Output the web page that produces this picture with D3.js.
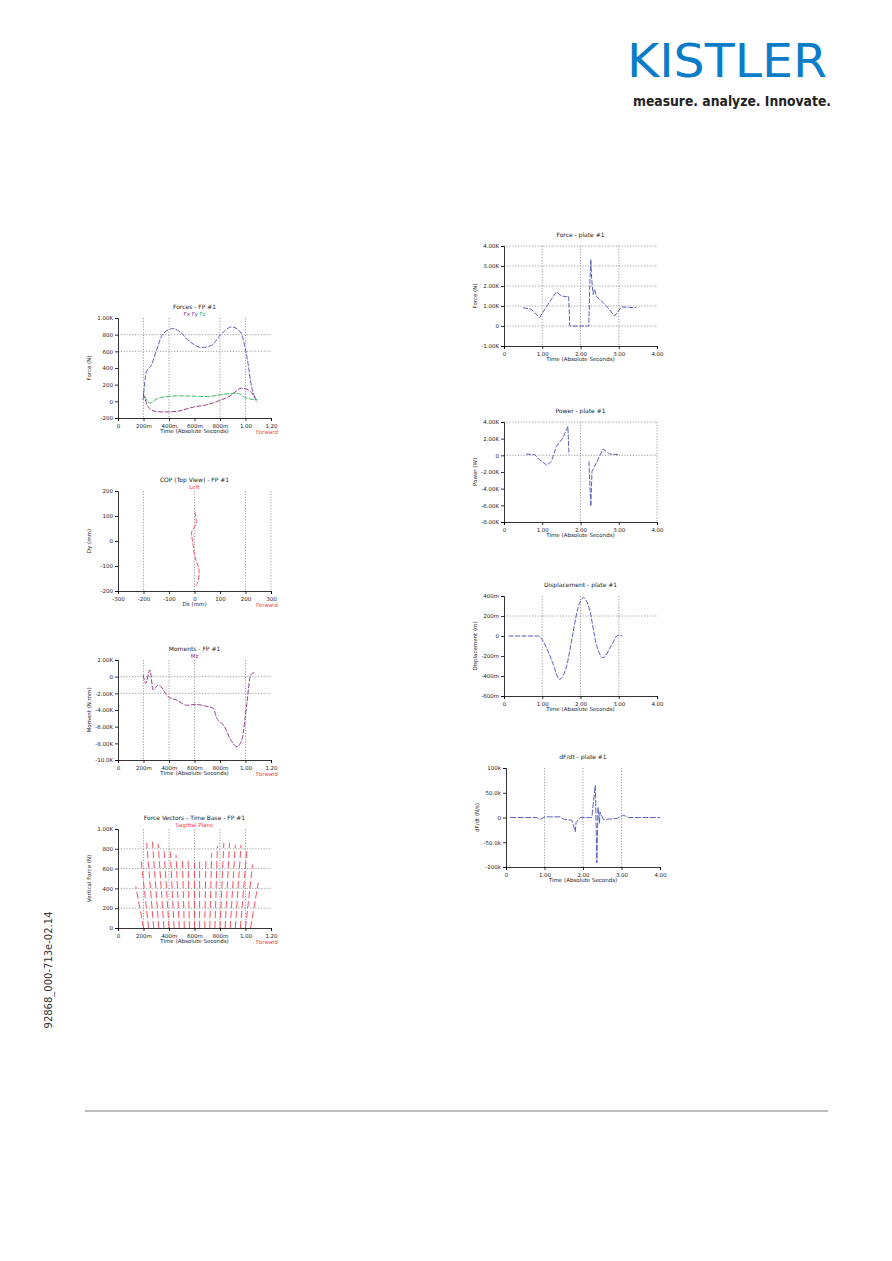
<!DOCTYPE html>
<html>
<head>
<meta charset="utf-8">
<script src="https://cdn.jsdelivr.net/npm/d3@7"></script>
<style>
body { margin: 0; background: #fff; }
text { font-family: "DejaVu Sans", sans-serif; }
</style>
</head>
<body>
<svg id="page" width="892" height="1261"></svg>
<script>
// ---- data ----
var forceTime = [0.197,0.223,0.262,0.302,0.354,0.433,0.486,0.565,0.657,0.735,0.801,0.893,0.959,1.011,1.05,1.09];
var forceFz = [18,356,436,614,813,873,833,714,646,674,793,893,833,535,158,18];
var fxTime = [0.197,0.236,0.276,0.354,0.46,0.59,0.696,0.8,0.88,0.97,1.04,1.09];
var forceFx = [98,-61,-113,-128,-120,-69,-41,11,66,158,118,-13];
var fyTime = [0.21,0.25,0.30,0.38,0.49,0.70,0.855,0.93,1.01,1.09];
var forceFy = [58,-21,26,58,66,58,90,98,38,18];

var copDx = [2,6,-11,-7,2,18,10,-2];
var copDy = [116,69,36,-4,-64,-117,-171,-184];

var momTime = [0.197,0.218,0.25,0.276,0.315,0.40,0.46,0.54,0.604,0.683,0.748,0.775,0.827,0.893,0.932,0.971,1.011,1.04,1.07];
var momMz = [200,-800,800,-1600,-1000,-2480,-2800,-3440,-3320,-3520,-3800,-5000,-5800,-7800,-8400,-7600,-3200,200,520];

var vecTime = [0.20,0.24,0.28,0.32,0.36,0.40,0.44,0.48,0.52,0.56,0.60,0.64,0.68,0.72,0.76,0.80,0.84,0.88,0.92,0.96,1.00,1.04];
var vecForce = [420,700,860,870,850,800,770,740,700,680,660,670,700,760,830,860,860,840,840,780,640,460];
var vecLean = [-0.06,-0.06,-0.055,-0.05,-0.045,-0.04,-0.03,-0.025,-0.015,-0.01,0,0,0.01,0.015,0.02,0.03,0.035,0.04,0.045,0.05,0.055,0.06];

var plateTime = [0.497,0.715,0.93,1.15,1.37,1.5,1.63,1.69,1.72,2.22,2.22,2.24,2.27,2.29,2.33,2.37,2.41,2.68,2.89,3.07,3.46];
var plateForce = [917,833,417,1083,1700,1500,1467,1500,0,0,333,1833,3333,2417,1583,1833,1500,1000,500,950,917];

var powerTime = [0.58,0.80,0.93,1.12,1.24,1.37,1.54,1.67,1.70,null,2.22,2.27,2.30,2.37,2.59,2.76,2.98];
var powerVal = [160,80,-520,-1200,-720,1080,2080,3480,80,null,-720,-6120,-1920,-1320,760,160,80];

var dispTime = [0.12,0.89,1.09,1.28,1.45,1.63,1.80,1.93,2.08,2.24,2.41,2.59,2.81,2.98,3.09];
var dispVal = [0,0,-100,-277,-433,-310,23,273,383,257,-77,-217,-93,7,0];

var dfdtTime = [0.11,0.8,0.89,1.02,1.41,1.49,1.71,1.8,1.82,1.93,2.23,2.27,2.32,2.33,2.36,2.39,2.43,2.44,2.53,2.88,3.05,3.18,4.0];
var dfdtVal = [0,0,-3.4,1.3,1.3,-3.4,-5.4,-29,-10,0,0,31.6,65,28,-91.6,21,-12,11,-4,-2,4.7,0,0];

var svg = d3.select("#page");
var BLUE = "#4a4fb0", PURPLE = "#8a2a80", GREEN = "#22b14c", RED = "#f04050";

function fmtK(v) {
    if (v === 0) return "0";
    var a = Math.abs(v);
    if (a >= 1000) return (v / 1000).toFixed(a >= 10000 ? 1 : 2) + "K";
    return String(v);
}

function chart(o) {
    var g = svg.append("g");
    var x = d3.scaleLinear().domain(o.xd).range([o.x0, o.x1]);
    var y = d3.scaleLinear().domain(o.yd).range([o.y1, o.y0]);
    // grid
    o.xgrid.forEach(function (v) {
        g.append("line").attr("x1", x(v)).attr("x2", x(v)).attr("y1", o.y0).attr("y2", o.y1)
            .attr("stroke", "#777").attr("stroke-width", 0.7).attr("stroke-dasharray", "1.2,1.6");
    });
    o.ygrid.forEach(function (v) {
        g.append("line").attr("x1", o.x0).attr("x2", o.x1).attr("y1", y(v)).attr("y2", y(v))
            .attr("stroke", "#777").attr("stroke-width", 0.7).attr("stroke-dasharray", "1.2,1.6");
    });
    var xa = g.append("g").attr("transform", "translate(0," + o.y1 + ")")
        .call(d3.axisBottom(x).tickValues(o.xticks).tickFormat(function (d, i) { return o.xlabels[i]; }).tickSize(3));
    var ya = g.append("g").attr("transform", "translate(" + o.x0 + ",0)")
        .call(d3.axisLeft(y).tickValues(o.yticks).tickFormat(function (d, i) { return o.ylabels[i]; }).tickSize(3));
    [xa, ya].forEach(function (a) {
        a.select(".domain").attr("stroke", "#000").attr("stroke-width", 0.8);
        a.selectAll("line").attr("stroke", "#000").attr("stroke-width", 0.8);
        a.selectAll("text").attr("font-size", 5.5).attr("fill", "#222");
    });
    ya.selectAll("text").attr("dx", 1);
    g.append("text").attr("x", (o.x0 + o.x1) / 2).attr("y", o.y0 - 9).attr("text-anchor", "middle")
        .attr("font-size", 6).attr("fill", "#222").text(o.title);
    if (o.legend) {
        var lt = g.append("text").attr("x", (o.x0 + o.x1) / 2).attr("y", o.y0 - 2.5).attr("text-anchor", "middle")
            .attr("font-size", 5.5);
        o.legend.forEach(function (l) { lt.append("tspan").attr("fill", l[1]).text(l[0] + " "); });
    }
    g.append("text").attr("x", (o.x0 + o.x1) / 2).attr("y", o.y1 + 15).attr("text-anchor", "middle")
        .attr("font-size", 5.5).attr("fill", "#222").text(o.xlabel);
    g.append("text").attr("transform", "translate(" + (o.x0 - 27) + "," + ((o.y0 + o.y1) / 2) + ") rotate(-90)")
        .attr("text-anchor", "middle").attr("font-size", 5.5).attr("fill", "#222").text(o.ylabel);
    if (o.forward) {
        g.append("text").attr("x", o.x1 + 7).attr("y", o.y1 + 16).attr("text-anchor", "end")
            .attr("font-size", 5.5).attr("fill", RED).text("Forward");
    }
    return { g: g, x: x, y: y };
}

function curve(c, xs, ys, color) {
    var pts = xs.map(function (v, i) { return [v, ys[i]]; });
    c.g.append("path").datum(pts)
        .attr("d", d3.line().defined(function (d) { return d[0] !== null; })
            .x(function (d) { return c.x(d[0]); }).y(function (d) { return c.y(d[1]); }).curve(d3.curveMonotoneX))
        .attr("fill", "none").attr("stroke", color).attr("stroke-width", 0.9).attr("stroke-dasharray", "5,1.5");
}

var timeTicks = [0, 0.2, 0.4, 0.6, 0.8, 1.0, 1.2];
var timeLabels = ["0", "200m", "400m", "600m", "800m", "1.00", "1.20"];
var absTicks = [0, 1, 2, 3, 4];
var absLabels = ["0", "1.00", "2.00", "3.00", "4.00"];

// left column
var c1 = chart({ x0: 118, x1: 271, y0: 318, y1: 418, xd: [0, 1.2], yd: [-200, 1000],
    xticks: timeTicks, xlabels: timeLabels, yticks: [-200, 0, 200, 400, 600, 800, 1000],
    ylabels: ["-200", "0", "200", "400", "600", "800", "1.00K"], xgrid: [0.2, 0.4, 0.8, 1.0], ygrid: [600, 800],
    title: "Forces - FP #1", legend: [["Fx", PURPLE], ["Fy", BLUE], ["Fz", GREEN]],
    xlabel: "Time (Absolute Seconds)", ylabel: "Force (N)", forward: true });
curve(c1, forceTime, forceFz, BLUE);
curve(c1, fxTime, forceFx, PURPLE);
curve(c1, fyTime, forceFy, GREEN);

var c2 = chart({ x0: 118, x1: 271, y0: 491, y1: 591, xd: [-300, 300], yd: [-200, 200],
    xticks: [-300, -200, -100, 0, 100, 200, 300], xlabels: ["-300", "-200", "-100", "0", "100", "200", "300"],
    yticks: [-200, -100, 0, 100, 200], ylabels: ["-200", "-100", "0", "100", "200"],
    xgrid: [-200, 0, 200, 300], ygrid: [], title: "COP (Top View) - FP #1", legend: [["Left", RED]],
    xlabel: "Dx (mm)", ylabel: "Dy (mm)", forward: true });
c2.g.append("path").datum(copDx.map(function (v, i) { return [v, copDy[i]]; }))
    .attr("d", d3.line().x(function (d) { return c2.x(d[0]); }).y(function (d) { return c2.y(d[1]); }).curve(d3.curveCatmullRom))
    .attr("fill", "none").attr("stroke", RED).attr("stroke-width", 0.9).attr("stroke-dasharray", "5,1.5");

var c3 = chart({ x0: 118, x1: 271, y0: 660, y1: 760, xd: [0, 1.2], yd: [-10000, 2000],
    xticks: timeTicks, xlabels: timeLabels, yticks: [-10000, -8000, -6000, -4000, -2000, 0, 2000],
    ylabels: [-10000, -8000, -6000, -4000, -2000, 0, 2000].map(fmtK), xgrid: [0.2, 0.4, 0.6, 1.0], ygrid: [0, -2000],
    title: "Moments - FP #1", legend: [["Mz", PURPLE]],
    xlabel: "Time (Absolute Seconds)", ylabel: "Moment (N.mm)", forward: true });
curve(c3, momTime, momMz, PURPLE);

var c4 = chart({ x0: 118, x1: 271, y0: 829, y1: 928, xd: [0, 1.2], yd: [0, 1000],
    xticks: timeTicks, xlabels: timeLabels, yticks: [0, 200, 400, 600, 800, 1000],
    ylabels: ["0", "200", "400", "600", "800", "1.00K"], xgrid: [0.2, 0.4, 0.6, 0.8, 1.0], ygrid: [200, 400, 600, 800],
    title: "Force Vectors - Time Base - FP #1", legend: [["Sagittal Plane", RED]],
    xlabel: "Time (Absolute Seconds)", ylabel: "Vertical Force (N)", forward: true });
c4.g.selectAll(".vec").data(vecTime).enter().append("line")
    .attr("x1", function (d) { return c4.x(d); }).attr("y1", c4.y(0))
    .attr("x2", function (d, i) { return c4.x(d + vecLean[i]); }).attr("y2", function (d, i) { return c4.y(vecForce[i]); })
    .attr("stroke", RED).attr("stroke-width", 0.9).attr("stroke-dasharray", "7,3");

// right column
var c5 = chart({ x0: 504, x1: 657, y0: 246, y1: 346, xd: [0, 4], yd: [-1000, 4000],
    xticks: absTicks, xlabels: absLabels, yticks: [-1000, 0, 1000, 2000, 3000, 4000],
    ylabels: ["-1.00K", "0", "1.00K", "2.00K", "3.00K", "4.00K"], xgrid: [1, 2, 3], ygrid: [0, 1000, 2000, 3000, 4000],
    title: "Force - plate #1", xlabel: "Time (Absolute Seconds)", ylabel: "Force (N)" });
c5.g.append("path").datum(plateTime.map(function (v, i) { return [v, plateForce[i]]; }))
    .attr("d", d3.line().x(function (d) { return c5.x(d[0]); }).y(function (d) { return c5.y(d[1]); }))
    .attr("fill", "none").attr("stroke", BLUE).attr("stroke-width", 0.9).attr("stroke-dasharray", "5,1.5");

var c6 = chart({ x0: 504, x1: 657, y0: 422, y1: 522, xd: [0, 4], yd: [-8000, 4000],
    xticks: absTicks, xlabels: absLabels, yticks: [-8000, -6000, -4000, -2000, 0, 2000, 4000],
    ylabels: [-8000, -6000, -4000, -2000, 0, 2000, 4000].map(fmtK), xgrid: [2, 4], ygrid: [0, 4000],
    title: "Power - plate #1", xlabel: "Time (Absolute Seconds)", ylabel: "Power (W)" });
c6.g.append("path").datum(powerTime.map(function (v, i) { return [v, powerVal[i]]; }))
    .attr("d", d3.line().defined(function (d) { return d[0] !== null; })
        .x(function (d) { return c6.x(d[0]); }).y(function (d) { return c6.y(d[1]); }))
    .attr("fill", "none").attr("stroke", BLUE).attr("stroke-width", 0.9).attr("stroke-dasharray", "5,1.5");

var c7 = chart({ x0: 504, x1: 657, y0: 596, y1: 696, xd: [0, 4], yd: [-600, 400],
    xticks: absTicks, xlabels: absLabels, yticks: [-600, -400, -200, 0, 200, 400],
    ylabels: ["-600m", "-400m", "-200m", "0", "200m", "400m"], xgrid: [1, 2, 3], ygrid: [200],
    title: "Displacement - plate #1", xlabel: "Time (Absolute Seconds)", ylabel: "Displacement (m)" });
curve(c7, dispTime, dispVal, BLUE);

var c8 = chart({ x0: 506, x1: 660, y0: 768, y1: 867, xd: [0, 4], yd: [-100, 100],
    xticks: absTicks, xlabels: absLabels, yticks: [-100, -50, 0, 50, 100],
    ylabels: ["-100k", "-50.0k", "0", "50.0k", "100k"], xgrid: [1, 2, 3], ygrid: [],
    title: "dF/dt - plate #1", xlabel: "Time (Absolute Seconds)", ylabel: "dF/dt (N/s)" });
c8.g.append("path").datum(dfdtTime.map(function (v, i) { return [v, dfdtVal[i]]; }))
    .attr("d", d3.line().x(function (d) { return c8.x(d[0]); }).y(function (d) { return c8.y(d[1]); }))
    .attr("fill", "none").attr("stroke", BLUE).attr("stroke-width", 0.9).attr("stroke-dasharray", "6,1.5");

// page decorations
svg.append("text").attr("x", 827).attr("y", 77).attr("text-anchor", "end")
    .attr("font-family", "Liberation Sans, Arial, sans-serif").attr("font-size", 47).attr("fill", "#0a7cc8")
    .attr("textLength", 200).attr("lengthAdjust", "spacingAndGlyphs").text("KISTLER");
svg.append("text").attr("x", 831).attr("y", 106).attr("text-anchor", "end")
    .attr("font-family", "Liberation Sans Narrow, Liberation Sans, sans-serif").attr("font-weight", "bold")
    .attr("font-size", 14).attr("fill", "#222").attr("textLength", 198).attr("lengthAdjust", "spacingAndGlyphs")
    .text("measure. analyze. Innovate.");
svg.append("text").attr("transform", "translate(52,970) rotate(-90)").attr("text-anchor", "middle")
    .attr("font-size", 10).attr("fill", "#333").text("92868_000-713e-02.14");
svg.append("line").attr("x1", 85).attr("x2", 828).attr("y1", 1111).attr("y2", 1111)
    .attr("stroke", "#444").attr("stroke-width", 0.7);
</script>
</body>
</html>
